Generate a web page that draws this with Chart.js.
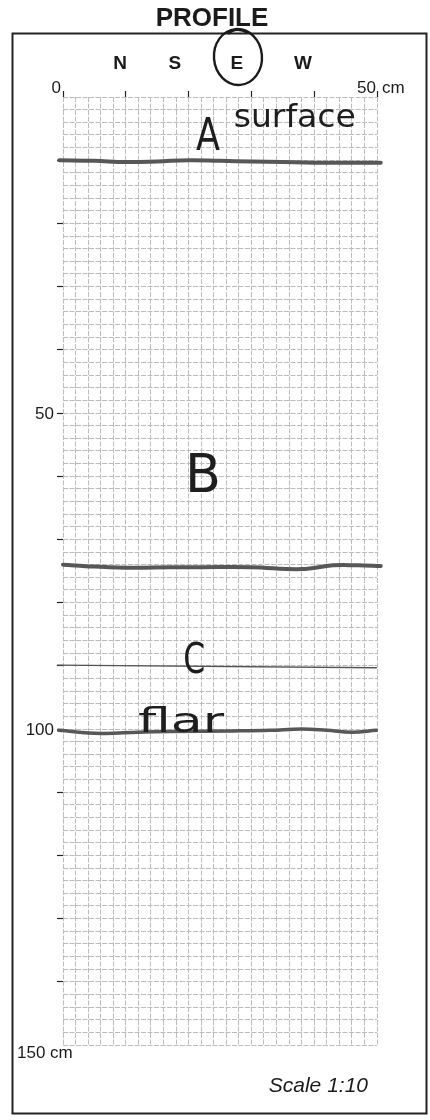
<!DOCTYPE html>
<html>
<head>
<meta charset="utf-8">
<title>Profile</title>
<script src="https://cdn.jsdelivr.net/npm/chart.js@4.4.1/dist/chart.umd.min.js"></script>
<style>
  html, body { margin: 0; padding: 0; background: #fff; }
  canvas { display: block; }
</style>
</head>
<body>
<canvas id="profile" width="430" height="1120"></canvas>
<script>
// profile sheet: width 0-50 cm, depth 0-150 cm, 2 cm grid
const widthMax = 50;
const depthMax = 150;
const gridStep = 2;
const markStep = 10;

const sideLabels = [50, 100];
const directions = ['N', 'S', 'E', 'W'];
const directionAt = [9.1, 17.8, 27.7, 38.2];
const chosenDirection = 'E';

// horizon boundaries drawn on the sheet (cm across, cm deep)
const xA = [-0.6, 5, 10, 15, 20, 25, 30, 35, 40, 45, 50.6];
const depthA = [10.0, 10.1, 10.3, 10.2, 10.0, 10.1, 10.2, 10.3, 10.4, 10.4, 10.4];

const xB = [0, 5, 11, 17, 22, 30, 38, 43, 47, 50.6];
const depthB = [74.0, 74.3, 74.5, 74.4, 74.4, 74.4, 74.7, 74.1, 74.1, 74.2];

const xC = [-0.9, 49.9];
const depthC = [89.9, 90.3];

const xFloor = [-0.7, 6, 12, 17, 27, 33, 38, 42, 46, 49.9];
const depthFloor = [100.2, 100.7, 100.5, 100.4, 100.3, 100.2, 100.0, 100.2, 100.5, 100.2];

const toPoints = (xs, ys) => xs.map((x, i) => ({ x: x, y: ys[i] }));

const notes = [
    { text: 'A', at: 23.1, depth: 8.4, size: 44, width: 24 },
    { text: 'surface', at: 36.9, depth: 4.7, size: 32, width: 122 },
    { text: 'B', at: 22.3, depth: 62.5, size: 54, width: 36 },
    { text: 'C', at: 20.9, depth: 91.1, size: 42, width: 22 },
    { text: 'flar', at: 18.8, depth: 100.4, size: 34, width: 86 }
];

const sheet = {
    id: 'sheet',
    beforeDraw(chart) {
        const ctx = chart.ctx;
        ctx.save();
        ctx.fillStyle = '#fff';
        ctx.fillRect(0, 0, chart.width, chart.height);
        ctx.strokeStyle = '#222';
        ctx.lineWidth = 2;
        ctx.strokeRect(12.5, 33.5, 414, 1080);
        ctx.restore();
    },
    afterDraw(chart) {
        const ctx = chart.ctx;
        const x = chart.scales.x;
        const y = chart.scales.y;
        ctx.save();
        ctx.fillStyle = '#1b1b1b';

        ctx.font = 'bold 26px "Liberation Sans", Arial, sans-serif';
        ctx.textAlign = 'center';
        ctx.textBaseline = 'alphabetic';
        ctx.fillText('PROFILE', 212, 26);

        ctx.font = 'bold 19px "Liberation Sans", Arial, sans-serif';
        directions.forEach((d, i) => {
            ctx.fillText(d, x.getPixelForValue(directionAt[i]), 69);
        });

        // circled direction
        const ci = directions.indexOf(chosenDirection);
        const cx = x.getPixelForValue(directionAt[ci]) + 1;
        ctx.strokeStyle = '#1b1b1b';
        ctx.lineWidth = 2.4;
        ctx.beginPath();
        ctx.ellipse(cx, 57, 24, 28, -0.08, 0, Math.PI * 2);
        ctx.stroke();
        ctx.beginPath();
        ctx.moveTo(cx - 10, 34);
        ctx.quadraticCurveTo(cx - 2, 26, cx + 10, 33);
        ctx.stroke();

        ctx.font = '17px "Liberation Sans", Arial, sans-serif';
        ctx.textAlign = 'right';
        ctx.fillText('0', x.getPixelForValue(0) - 2, 93);
        ctx.fillText('50', x.getPixelForValue(widthMax) - 1, 93);
        sideLabels.forEach(v => {
            ctx.fillText(String(v), x.left - 9, y.getPixelForValue(v) + 6);
        });
        ctx.textAlign = 'left';
        ctx.fillText('cm', x.getPixelForValue(widthMax) + 5, 93);
        ctx.fillText('150 cm', 17, y.getPixelForValue(depthMax) + 13);

        ctx.font = 'italic 21px "Liberation Sans", Arial, sans-serif';
        ctx.textAlign = 'right';
        ctx.fillText('Scale 1:10', 368, 1092);

        // handwritten notes
        ctx.fillStyle = '#1e1e1e';
        ctx.textAlign = 'center';
        notes.forEach(n => {
            ctx.font = n.size + 'px "DejaVu Sans", sans-serif';
            const w = ctx.measureText(n.text).width;
            ctx.save();
            ctx.translate(x.getPixelForValue(n.at), y.getPixelForValue(n.depth));
            ctx.scale(n.width / w, 1);
            ctx.fillText(n.text, 0, 0);
            ctx.restore();
        });
        ctx.restore();
    }
};

const lineStyle = {
    borderColor: '#575757',
    borderWidth: 4,
    pointRadius: 0,
    tension: 0.4,
    fill: false,
    clip: false,
    borderCapStyle: 'round'
};

const gridLook = { color: '#bcbcbc', lineWidth: 1, drawTicks: false };

new Chart(document.getElementById('profile'), {
    type: 'line',
    data: {
        datasets: [
            Object.assign({ label: 'A', data: toPoints(xA, depthA) }, lineStyle),
            Object.assign({ label: 'B', data: toPoints(xB, depthB) }, lineStyle),
            Object.assign({ label: 'C', data: toPoints(xC, depthC) }, lineStyle, { borderWidth: 1.4, borderColor: '#555', tension: 0 }),
            Object.assign({ label: 'floor', data: toPoints(xFloor, depthFloor) }, lineStyle, { borderWidth: 3.5 })
        ]
    },
    options: {
        responsive: false,
        animation: false,
        events: [],
        layout: { padding: { left: 63, right: 53, top: 97, bottom: 75 } },
        plugins: { legend: { display: false }, tooltip: { enabled: false }, title: { display: false } },
        scales: {
            x: {
                type: 'linear', position: 'top', min: 0, max: widthMax,
                ticks: { stepSize: gridStep, display: false },
                grid: gridLook,
                border: { display: false, dash: [5, 1.5] },
                afterFit: s => { s.height = 0; }
            },
            xMarks: {
                type: 'linear', position: 'top', min: 0, max: widthMax,
                ticks: { stepSize: markStep, display: false },
                grid: { drawOnChartArea: false, drawTicks: true, tickLength: 6, tickColor: '#222', tickWidth: 1.2 },
                border: { display: false },
                afterFit: s => { s.height = 0; }
            },
            y: {
                type: 'linear', position: 'left', reverse: true, min: 0, max: depthMax,
                ticks: { stepSize: gridStep, display: false },
                grid: gridLook,
                border: { display: false, dash: [5, 1.5] },
                afterFit: s => { s.width = 0; }
            },
            yMarks: {
                type: 'linear', position: 'left', reverse: true, min: 0, max: depthMax,
                ticks: { stepSize: markStep, display: false },
                grid: {
                    drawOnChartArea: false, drawTicks: true, tickLength: 6, tickWidth: 1.2,
                    tickColor: c => (c.tick.value === 0 || c.tick.value === depthMax) ? 'rgba(0,0,0,0)' : '#222'
                },
                border: { display: false },
                afterFit: s => { s.width = 0; }
            }
        }
    },
    plugins: [sheet]
});
</script>
</body>
</html>
